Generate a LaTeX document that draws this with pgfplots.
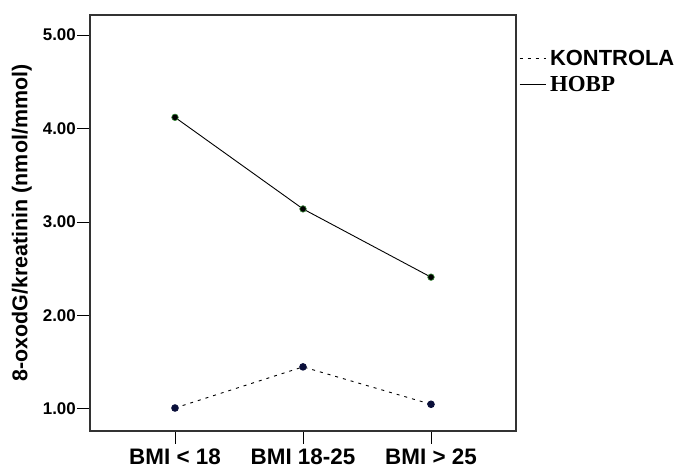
\documentclass[border=0pt]{standalone}
\usepackage{fontspec}
\setmainfont{Liberation Sans}
\newfontfamily\timesbf{Liberation Serif}
\usepackage{pgfplots}
\pgfplotsset{compat=1.18}
\definecolor{navy}{HTML}{0A0F3A}
\definecolor{grn}{HTML}{3C8C3C}
\begin{document}
\begin{tikzpicture}
\useasboundingbox (0,0) rectangle (682bp,468bp);
\begin{axis}[
  at={(90bp,37bp)}, anchor=south west,
  scale only axis, width=426bp, height=416bp,
  xmin=-0.664, xmax=2.664, ymin=0.764, ymax=5.215,
  xtick={0,1,2}, xticklabels={BMI < 18, BMI 18-25, BMI > 25},
  ytick={1,2,3,4,5},
  /pgf/number format/assume math mode=true,
  yticklabel style={/pgf/number format/fixed, /pgf/number format/fixed zerofill, /pgf/number format/precision=2},
  tick align=outside, major tick length=13bp,
  tick style={black, line width=0.9bp},
  xtick pos=bottom, ytick pos=left,
  axis line style={draw=black!80, line width=1.1bp},
  xticklabel style={font=\fontsize{22.5}{25}\selectfont\bfseries, yshift=-1bp},
  yticklabel style={font=\fontsize{17}{20}\selectfont\bfseries, inner sep=1bp},
  ylabel={8-oxodG/kreatinin (nmol/mmol)},
  every axis y label/.style={at={(axis description cs:-0.160,0.5)}, rotate=90, anchor=center,
    font=\fontsize{21.5}{24}\selectfont\bfseries},
  legend style={at={(axis description cs:1.007,0.92)}, anchor=north west, draw=none, fill=none,
    inner xsep=0pt, inner ysep=0pt, row sep=5bp,
    font=\fontsize{22}{24}\selectfont\bfseries, cells={anchor=west},
    nodes={inner xsep=4bp}},
  legend image code/.code={\draw[#1, mark=none] (0bp,0bp) -- (26bp,0bp);},
  clip=false,
]
\addplot[black, line width=0.9bp, dash pattern=on 3bp off 5bp,
  mark=*, mark size=3.3bp, mark options={solid, fill=navy, draw=navy}]
  coordinates {(0,1.01) (1,1.45) (2,1.05)};
\addlegendentry{KONTROLA}
\addplot[black, line width=0.9bp,
  mark=*, mark size=3.3bp, mark options={solid, fill=black, draw=grn, line width=0.6bp}]
  coordinates {(0,4.12) (1,3.14) (2,2.41)};
\addlegendentry{{\fontsize{23}{24}\selectfont\timesbf\bfseries HOBP}}
\end{axis}
\end{tikzpicture}
\end{document}
